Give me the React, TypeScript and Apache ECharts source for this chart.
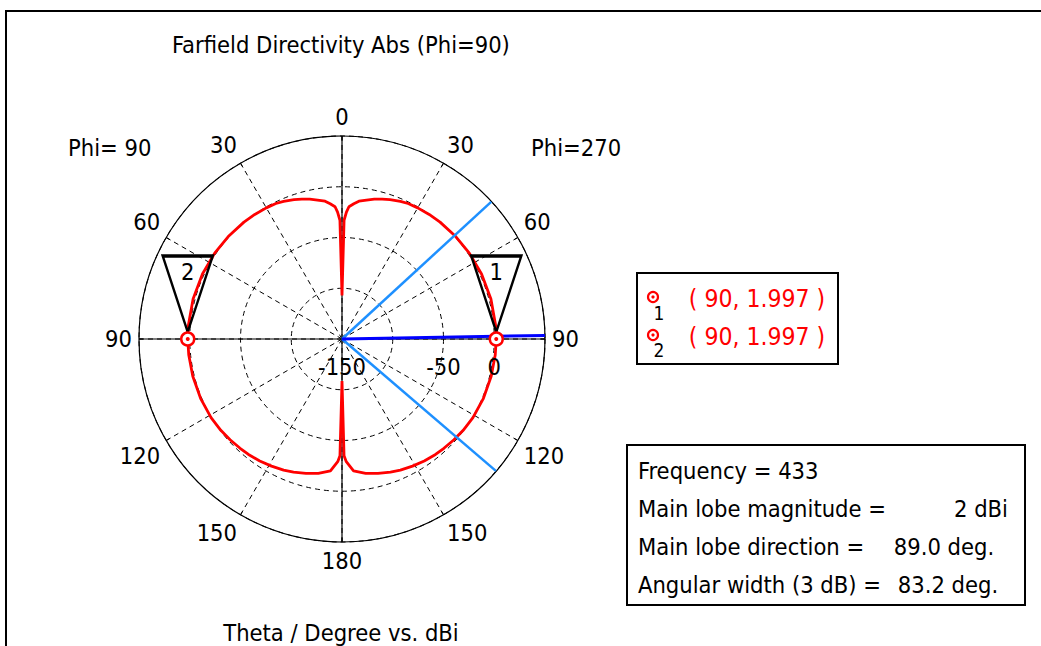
import React, { useEffect, useRef } from "react";
import * as echarts from "echarts";

// Farfield directivity cut (Phi = 90 / 270), theta in degrees, values in dBi
const thetaDeg = [0, 1, 2, 3, 5, 7, 10, 13, 16, 19, 23, 26, 30, 35, 40, 48, 56, 65, 75, 85, 89, 90, 96, 104, 113, 121, 127, 132, 137, 141, 146, 151, 156, 160, 165, 170, 175, 178, 179, 180];
const directivityDbi = [-107, -33, -25, -19.5, -16.3, -13.2, -11, -8.6, -6.6, -4.8, -2.7, -1.5, -0.8, -0.2, 0.3, 0.8, 1.3, 1.7, 1.9, 1.98, 2.0, 1.997, 1.8, 1.5, 1.1, 0.5, -0.5, -1.6, -2.8, -3.6, -5.1, -6.8, -8.6, -10.4, -12.9, -15.5, -19.5, -29, -35, -108.5];

// axes
const radiusMin = -150;
const radiusMax = 50;
const radiusInterval = 50;
const radiusTickLabels = [-150, -50, 0];
const angleInterval = 30;

// markers
const markerNames = ["1", "2"];
const markerTheta = [90, 270];
const markerThetaLabel = [90, 90];
const markerValue = [1.997, 1.997];

// summary
const frequency = 433;
const mainLobeMagnitude = 2;
const mainLobeDirection = 89.0;
const angularWidth3dB = 83.2;

const FONT = "'DejaVu Sans Condensed', 'DejaVu Sans', sans-serif";
const FS = 23.5;

export default function App() {
  const ref = useRef<HTMLDivElement>(null);

  useEffect(() => {
    document.body.style.margin = "0";
    const chart = echarts.init(ref.current!, null, { renderer: "svg" });

    const right = thetaDeg.map((t, i) => [directivityDbi[i], t]);
    const left = thetaDeg
      .map((t, i) => [directivityDbi[i], 360 - t])
      .reverse();
    const curve = right.concat(left);

    const lineSeries = (data: number[][], color: string, width: number, z: number) => ({
      type: "line",
      coordinateSystem: "polar",
      data,
      symbol: "none",
      silent: true,
      animation: false,
      z,
      lineStyle: { color, width, opacity: 1 },
    });

    const half = angularWidth3dB / 2;
    const markerData = markerTheta.map((t, i) => [markerValue[i], t]);

    const option: any = {
      animation: false,
      polar: { center: [342, 339], radius: 203 },
      angleAxis: {
        type: "value",
        min: 0,
        max: 360,
        interval: angleInterval,
        startAngle: 90,
        clockwise: true,
        axisLine: { show: true, lineStyle: { color: "#000", width: 1.2 } },
        axisTick: { show: true, inside: true, length: 4, lineStyle: { color: "#000", width: 1 } },
        axisLabel: {
          margin: 7,
          fontSize: FS,
          color: "#000",
          fontFamily: FONT,
          formatter: (v: number) => (v === 360 ? "" : String(v > 180 ? 360 - v : v)),
        },
        splitLine: { show: true, lineStyle: { color: "#000", type: [5, 4], width: 1 } },
      },
      radiusAxis: {
        type: "value",
        min: radiusMin,
        max: radiusMax,
        interval: radiusInterval,
        axisLine: { show: false },
        axisTick: { show: false },
        axisLabel: { show: false },
        splitLine: { show: true, lineStyle: { color: "#000", type: [5, 4], width: 1 } },
      },
      series: [
        lineSeries([[radiusMax, 0], [radiusMin, 0], [radiusMax, 180]], "#000", 1.2, 2),
        lineSeries([[radiusMax, 90], [radiusMin, 90], [radiusMax, 270]], "#000", 1.2, 2),
        lineSeries(curve, "#ff0000", 2.8, 3),
        lineSeries([[radiusMin, mainLobeDirection - half], [radiusMax, mainLobeDirection - half]], "#1e90ff", 2.5, 4),
        lineSeries([[radiusMin, mainLobeDirection + half], [radiusMax, mainLobeDirection + half]], "#1e90ff", 2.5, 4),
        lineSeries([[radiusMin, mainLobeDirection], [radiusMax, mainLobeDirection]], "#0000ff", 3, 4),
        {
          type: "scatter",
          coordinateSystem: "polar",
          silent: true,
          z: 5,
          data: markerData,
          symbol: "triangle",
          symbolRotate: 180,
          symbolSize: [50, 76],
          symbolOffset: [0, -45],
          itemStyle: { color: "rgba(0,0,0,0)", borderColor: "#000", borderWidth: 2.8, opacity: 1 },
        },
        {
          type: "scatter",
          coordinateSystem: "polar",
          silent: true,
          z: 6,
          data: markerData,
          symbol: "circle",
          symbolSize: 13,
          itemStyle: { color: "#fff", borderColor: "#ff0000", borderWidth: 2.4, opacity: 1 },
        },
        {
          type: "scatter",
          coordinateSystem: "polar",
          silent: true,
          z: 7,
          data: markerData,
          symbol: "circle",
          symbolSize: 4,
          itemStyle: { color: "#ff0000", opacity: 1 },
          label: {
            show: true,
            position: "inside",
            offset: [0, -67],
            fontSize: FS,
            fontFamily: FONT,
            color: "#000",
            opacity: 1,
            formatter: (p: any) => markerNames[p.dataIndex],
          },
        },
        {
          type: "scatter",
          coordinateSystem: "polar",
          silent: true,
          z: 7,
          data: radiusTickLabels.map((r) => [r, 90]),
          symbol: "circle",
          symbolSize: 1,
          itemStyle: { color: "rgba(0,0,0,0)", opacity: 1 },
          label: {
            show: true,
            position: "bottom",
            distance: 15,
            fontSize: FS,
            fontFamily: FONT,
            color: "#000",
            opacity: 1,
            formatter: (p: any) => String(p.value[0]),
          },
        },
      ],
      graphic: [
        {
          type: "rect",
          silent: true,
          z: -10,
          shape: { x: 6, y: 11, width: 1100, height: 700 },
          style: { fill: "#fff", stroke: "#000", lineWidth: 2 },
        },
        {
          type: "text",
          style: { x: 341, y: 45, text: "Farfield Directivity Abs (Phi=90)", textAlign: "center", textVerticalAlign: "middle", fontSize: FS, fontFamily: FONT, fill: "#000" },
        },
        {
          type: "text",
          style: { x: 341, y: 633, text: "Theta / Degree vs. dBi", textAlign: "center", textVerticalAlign: "middle", fontSize: FS, fontFamily: FONT, fill: "#000" },
        },
        {
          type: "text",
          style: { x: 68, y: 148, text: "Phi= 90", textAlign: "left", textVerticalAlign: "middle", fontSize: FS, fontFamily: FONT, fill: "#000" },
        },
        {
          type: "text",
          style: { x: 531, y: 148, text: "Phi=270", textAlign: "left", textVerticalAlign: "middle", fontSize: FS, fontFamily: FONT, fill: "#000" },
        },
        // marker legend box
        {
          type: "rect",
          shape: { x: 637, y: 273, width: 201, height: 91 },
          style: { fill: "#fff", stroke: "#000", lineWidth: 2 },
        },
        ...markerNames.flatMap((n, i) => [
          { type: "circle", shape: { cx: 653, cy: 297 + i * 38, r: 5 }, style: { fill: "#fff", stroke: "#ff0000", lineWidth: 2.2 } },
          { type: "circle", shape: { cx: 653, cy: 297 + i * 38, r: 1.6 }, style: { fill: "#ff0000" } },
          { type: "text", style: { x: 659, y: 313 + i * 37, text: n, textAlign: "center", textVerticalAlign: "middle", fontSize: 19, fontFamily: FONT, fill: "#000" } },
          { type: "text", style: { x: 757, y: 298 + i * 38, text: `( ${markerThetaLabel[i]}, ${markerValue[i]} )`, textAlign: "center", textVerticalAlign: "middle", fontSize: 24.5, fontFamily: FONT, fill: "#ff0000" } },
        ]),
        // summary box
        {
          type: "rect",
          shape: { x: 627, y: 445, width: 398, height: 160 },
          style: { fill: "#fff", stroke: "#000", lineWidth: 2 },
        },
        { type: "text", style: { x: 638, y: 471, text: `Frequency = ${frequency}`, textVerticalAlign: "middle", fontSize: FS, fontFamily: FONT, fill: "#000" } },
        { type: "text", style: { x: 638, y: 509, text: "Main lobe magnitude =", textVerticalAlign: "middle", fontSize: FS, fontFamily: FONT, fill: "#000" } },
        { type: "text", style: { x: 981, y: 509, text: `${mainLobeMagnitude} dBi`, textAlign: "center", textVerticalAlign: "middle", fontSize: FS, fontFamily: FONT, fill: "#000" } },
        { type: "text", style: { x: 638, y: 547, text: "Main lobe direction =", textVerticalAlign: "middle", fontSize: FS, fontFamily: FONT, fill: "#000" } },
        { type: "text", style: { x: 944, y: 547, text: `${mainLobeDirection.toFixed(1)} deg.`, textAlign: "center", textVerticalAlign: "middle", fontSize: FS, fontFamily: FONT, fill: "#000" } },
        { type: "text", style: { x: 638, y: 585, text: "Angular width (3 dB) =", textVerticalAlign: "middle", fontSize: FS, fontFamily: FONT, fill: "#000" } },
        { type: "text", style: { x: 948, y: 585, text: `${angularWidth3dB.toFixed(1)} deg.`, textAlign: "center", textVerticalAlign: "middle", fontSize: FS, fontFamily: FONT, fill: "#000" } },
      ],
    };

    chart.setOption(option);
    return () => chart.dispose();
  }, []);

  return <div ref={ref} style={{ width: 1041, height: 646 }} />;
}
